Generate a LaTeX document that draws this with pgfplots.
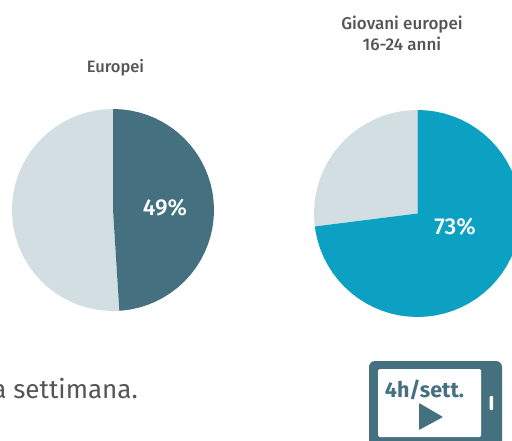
\documentclass[border=0pt]{standalone}
\usepackage{pgfplots}
\usepackage{pgfplotstable}
\pgfplotsset{compat=1.18}
\usepackage{fontspec}
\setmainfont{Fira Sans}
\newfontfamily\med{Fira Sans Medium}
\definecolor{dark}{HTML}{44707F}
\definecolor{light}{HTML}{D2DEE1}
\definecolor{blue}{HTML}{0CA1C3}
\definecolor{txt}{HTML}{555555}
\pgfplotstableread[row sep=\\]{
a r\\ 0 0\\ 90 1\\ 85 1\\ 80 1\\ 75 1\\ 70 1\\ 65 1\\ 60 1\\ 55 1\\ 50 1\\ 45 1\\ 40 1\\ 35 1\\ 30 1\\ 25 1\\ 20 1\\ 15 1\\ 10 1\\ 5 1\\ 0 1\\ -5 1\\ -10 1\\ -15 1\\ -20 1\\ -25 1\\ -30 1\\ -35 1\\ -40 1\\ -45 1\\ -50 1\\ -55 1\\ -60 1\\ -65 1\\ -70 1\\ -75 1\\ -80 1\\ -85 1\\ -86.4 1\\
}\darkwedge
\pgfplotstableread[row sep=\\]{
a r\\ 0 0\\ 90 1\\ 95 1\\ 100 1\\ 105 1\\ 110 1\\ 115 1\\ 120 1\\ 125 1\\ 130 1\\ 135 1\\ 140 1\\ 145 1\\ 150 1\\ 155 1\\ 160 1\\ 165 1\\ 170 1\\ 175 1\\ 180 1\\ 185 1\\ 190 1\\ 195 1\\ 200 1\\ 205 1\\ 210 1\\ 215 1\\ 220 1\\ 225 1\\ 230 1\\ 235 1\\ 240 1\\ 245 1\\ 250 1\\ 255 1\\ 260 1\\ 265 1\\ 270 1\\ 273.6 1\\
}\lightwedge
\pgfplotstableread[row sep=\\]{
a r\\ 0 0\\ 90 1\\ 85 1\\ 80 1\\ 75 1\\ 70 1\\ 65 1\\ 60 1\\ 55 1\\ 50 1\\ 45 1\\ 40 1\\ 35 1\\ 30 1\\ 25 1\\ 20 1\\ 15 1\\ 10 1\\ 5 1\\ 0 1\\ -5 1\\ -10 1\\ -15 1\\ -20 1\\ -25 1\\ -30 1\\ -35 1\\ -40 1\\ -45 1\\ -50 1\\ -55 1\\ -60 1\\ -65 1\\ -70 1\\ -75 1\\ -80 1\\ -85 1\\ -90 1\\ -95 1\\ -100 1\\ -105 1\\ -110 1\\ -115 1\\ -120 1\\ -125 1\\ -130 1\\ -135 1\\ -140 1\\ -145 1\\ -150 1\\ -155 1\\ -160 1\\ -165 1\\ -170 1\\ -172.8 1\\
}\bluewedge
\pgfplotstableread[row sep=\\]{
a r\\ 0 0\\ 90 1\\ 95 1\\ 100 1\\ 105 1\\ 110 1\\ 115 1\\ 120 1\\ 125 1\\ 130 1\\ 135 1\\ 140 1\\ 145 1\\ 150 1\\ 155 1\\ 160 1\\ 165 1\\ 170 1\\ 175 1\\ 180 1\\ 185 1\\ 187.2 1\\
}\greywedge
\begin{document}
\begin{tikzpicture}[x=1pt,y=1pt]
\path[use as bounding box] (0,0) rectangle (512pt,441pt);
\clip (0,0) rectangle (512pt,441pt);
\begin{axis}[at={(0,0)},anchor=south west,scale only axis,width=512pt,height=441pt,
  xmin=0,xmax=512,ymin=0,ymax=441,y dir=reverse,hide axis,clip=true]
\addplot[fill=light,draw=none] table[x expr={113+101*\thisrow{r}*cos(\thisrow{a})},y expr={210-101*\thisrow{r}*sin(\thisrow{a})}]{\lightwedge};
\addplot[fill=dark,draw=none] table[x expr={113+101*\thisrow{r}*cos(\thisrow{a})},y expr={210-101*\thisrow{r}*sin(\thisrow{a})}]{\darkwedge};
\addplot[fill=light,draw=none] table[x expr={417.5+103.5*\thisrow{r}*cos(\thisrow{a})},y expr={213.5-103.5*\thisrow{r}*sin(\thisrow{a})}]{\greywedge};
\addplot[fill=blue,draw=none] table[x expr={417.5+103.5*\thisrow{r}*cos(\thisrow{a})},y expr={213.5-103.5*\thisrow{r}*sin(\thisrow{a})}]{\bluewedge};
\node[text=white,font=\med\fontsize{23}{23}\selectfont] at (axis cs:165,208) {49\%};
\node[text=white,font=\med\fontsize{23}{23}\selectfont] at (axis cs:455,227) {73\%};
\node[text=txt,font=\med\fontsize{16.5}{16.5}\selectfont] at (axis cs:115.5,68) {Europei};
\node[text=txt,font=\med\fontsize{17}{21}\selectfont,align=center] at (axis cs:402,33) {Giovani europei\\16-24 anni};
\node[text=txt,anchor=base east,inner sep=0pt,font=\fontsize{26}{26}\selectfont] at (axis cs:138,398) {a settimana.};
\fill[dark,rounded corners=6pt] (axis cs:369,361) rectangle (axis cs:502,460);
\fill[white,rounded corners=1.5pt] (axis cs:378,369) rectangle (axis cs:481,437);
\fill[white,rounded corners=1pt] (axis cs:489.5,396) rectangle (axis cs:493,410);
\fill[dark,rounded corners=0.8pt] (axis cs:419,403) -- (axis cs:443,417) -- (axis cs:419,430) -- cycle;
\node[text=dark,font=\fontsize{21.5}{21.5}\selectfont\bfseries] at (axis cs:424.5,390) {4h/sett.};
\end{axis}
\end{tikzpicture}
\end{document}
